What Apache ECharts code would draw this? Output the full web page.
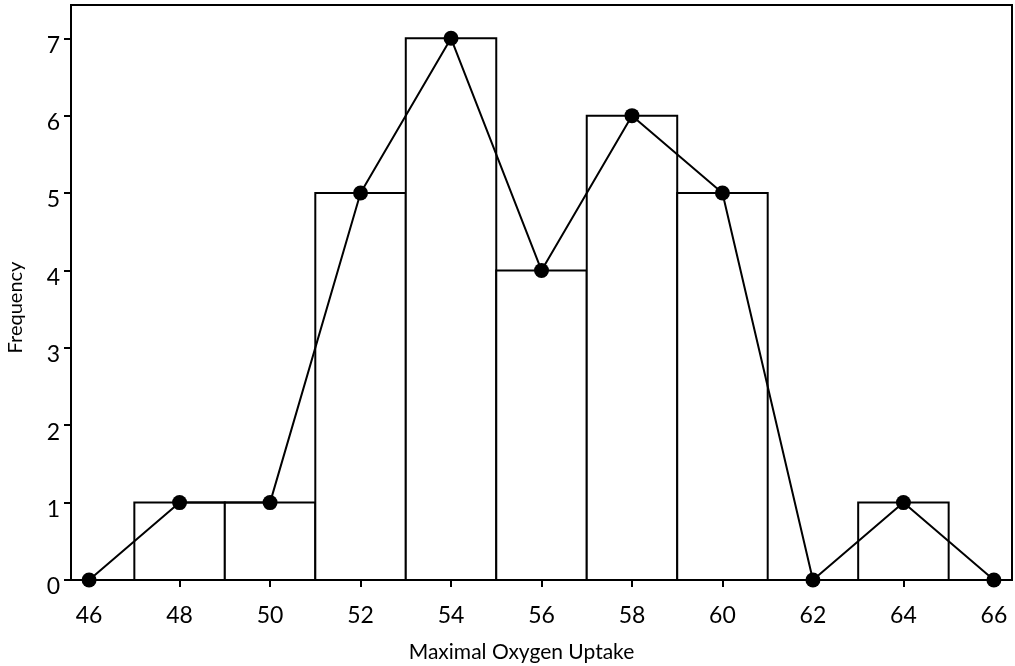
<!DOCTYPE html>
<html><head><meta charset="utf-8">
<script src="https://cdn.jsdelivr.net/npm/echarts@6/dist/echarts.min.js"></script>
<style>html,body{margin:0;padding:0;background:#fff}#c{width:1015px;height:666px}</style>
</head><body><div id="c"></div>
<script>
const binCenters = [48, 50, 52, 54, 56, 58, 60, 62, 64];
const binCounts  = [1, 1, 5, 7, 4, 6, 5, 0, 1];
const binWidth = 2;
const polyX = [46, 48, 50, 52, 54, 56, 58, 60, 62, 64, 66];
const polyY = [0, 1, 1, 5, 7, 4, 6, 5, 0, 1, 0];
const xTicks = [46, 48, 50, 52, 54, 56, 58, 60, 62, 64, 66];
const yTicks = [0, 1, 2, 3, 4, 5, 6, 7];

const FONT = 'Lato';
const chart = echarts.init(document.getElementById('c'), null, {renderer: 'canvas'});
chart.setOption({
  animation: false,
  backgroundColor: '#fff',
  grid: {left: 71, right: 3, top: 5, bottom: 86, outerBoundsMode: 'none', containLabel: false,
         show: true, borderColor: '#000', borderWidth: 2, backgroundColor: 'transparent'},
  xAxis: {
    type: 'value', min: 45.6, max: 66.4,
    name: 'Maximal Oxygen Uptake', nameLocation: 'middle', nameGap: 62,
    nameTextStyle: {fontFamily: FONT, fontSize: 21, color: '#000', padding: [0, 40, 0, 0]},
    axisLine: {show: true, onZero: false, lineStyle: {color: '#000', width: 2}},
    axisTick: {show: true, length: 7, inside: false, customValues: xTicks, lineStyle: {color: '#000', width: 2}},
    axisLabel: {customValues: xTicks, fontFamily: FONT, fontSize: 23, color: '#000', margin: 24},
    splitLine: {show: false}
  },
  yAxis: {
    type: 'value', min: 0, max: 7.43,
    name: 'Frequency', nameLocation: 'middle', nameGap: 45,
    nameTextStyle: {fontFamily: FONT, fontSize: 20, color: '#000', padding: [0, 30, 0, 0]},
    axisLine: {show: true, lineStyle: {color: '#000', width: 2}},
    axisTick: {show: true, length: 7, customValues: yTicks, lineStyle: {color: '#000', width: 2}},
    axisLabel: {customValues: yTicks, fontFamily: FONT, fontSize: 23, color: '#000', margin: 11,
                verticalAlign: 'top', lineHeight: 14},
    splitLine: {show: false}
  },
  series: [
    {
      type: 'custom',
      data: binCenters.map((c, i) => [c, binCounts[i]]),
      renderItem: function (params, api) {
        const c = api.value(0), v = api.value(1);
        const p0 = api.coord([c - binWidth / 2, v]);
        const p1 = api.coord([c + binWidth / 2, 0]);
        return {
          type: 'rect',
          shape: {x: p0[0], y: p0[1], width: p1[0] - p0[0], height: p1[1] - p0[1]},
          style: {fill: '#fff', stroke: '#000', lineWidth: 2}
        };
      },
      z: 2
    },
    {
      type: 'line',
      data: polyX.map((x, i) => [x, polyY[i]]),
      symbol: 'circle', symbolSize: 15,
      itemStyle: {color: '#000'},
      lineStyle: {color: '#000', width: 2},
      z: 3
    }
  ]
});
</script></body></html>
